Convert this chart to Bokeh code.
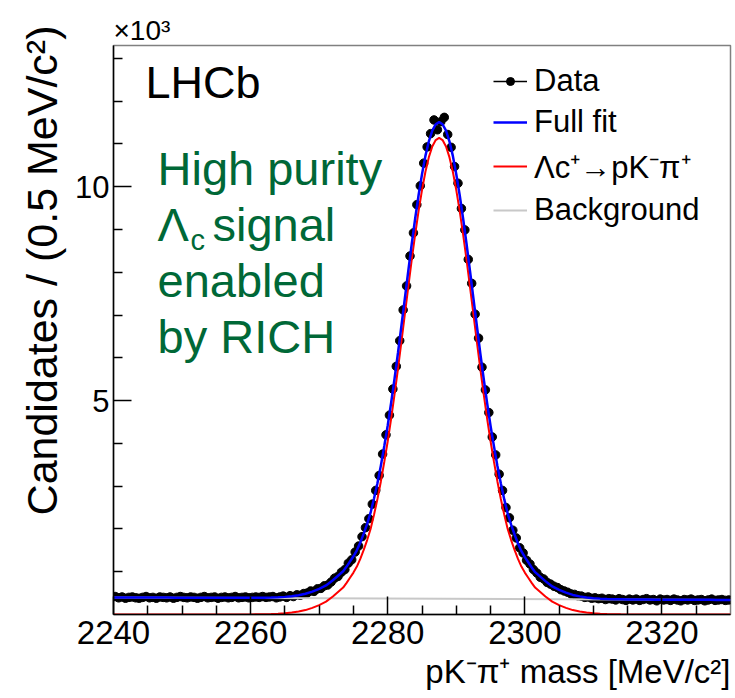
import numpy as np
from bokeh.plotting import figure
from bokeh.models import Range1d, FixedTicker, Label, Legend, LegendItem, ColumnDataSource, Title
from bokeh.embed import file_html
from bokeh.resources import INLINE

# ---------------- data (values in units of 10^3 candidates) ----------------
BIN_WIDTH = 0.5
mass_bins = np.arange(2240.25, 2330.0, BIN_WIDTH)

data_counts = [
    # 2240.25 - 2262.75
    0.42, 0.39, 0.41, 0.38, 0.40, 0.41, 0.39, 0.38, 0.40, 0.42,
    0.39, 0.40, 0.38, 0.41, 0.40, 0.39, 0.41, 0.38, 0.40, 0.42,
    0.40, 0.39, 0.41, 0.40, 0.38, 0.40, 0.42, 0.39, 0.40, 0.41,
    0.38, 0.40, 0.41, 0.39, 0.40, 0.42, 0.39, 0.40, 0.41, 0.39,
    0.40, 0.41, 0.40, 0.42, 0.40, 0.41,
    # 2263.25 - 2271.75
    0.42, 0.39, 0.41, 0.43, 0.40, 0.44, 0.42, 0.46, 0.45, 0.49,
    0.50, 0.55, 0.54, 0.60, 0.61, 0.67, 0.69, 0.76,
    # 2272.25 - 2303.75
    0.85, 0.89, 0.99, 1.05, 1.20, 1.28, 1.46, 1.60, 1.82, 2.03,
    2.24, 2.58, 2.90, 3.25, 3.75, 4.20, 4.66, 5.27, 5.80, 6.40,
    7.12, 7.68, 8.38, 8.92, 9.58, 10.02, 10.55, 10.93, 11.24, 11.56,
    11.33, 11.52, 11.62, 11.22, 10.92, 10.47, 10.08, 9.49, 8.99, 8.30,
    7.74, 7.02, 6.46, 5.78, 5.25, 4.72, 4.15, 3.73, 3.28, 2.90,
    2.50, 2.26, 1.97, 1.79, 1.56, 1.44, 1.27, 1.18, 1.05, 0.97,
    0.87, 0.83, 0.75, 0.71,
    # 2304.25 - 2329.75
    0.66, 0.63, 0.58, 0.55, 0.52, 0.48, 0.47, 0.44, 0.43, 0.40,
    0.41, 0.38, 0.39, 0.37, 0.38, 0.35, 0.37, 0.36, 0.34, 0.37,
    0.35, 0.33, 0.36, 0.34, 0.36, 0.33, 0.35, 0.37, 0.34, 0.35,
    0.32, 0.36, 0.34, 0.35, 0.33, 0.36, 0.34, 0.32, 0.35, 0.34,
    0.36, 0.33, 0.34, 0.35, 0.32, 0.34, 0.36, 0.33, 0.34, 0.35,
    0.33, 0.34,
]

fit_mass = np.concatenate([
    np.arange(2240.0, 2272.0, 1.0),
    np.arange(2272.0, 2303.5, 0.5),
    np.arange(2304.0, 2331.0, 1.0),
])

signal_fit = [
    # 2240 - 2271 (1 MeV)
    0.0, 0.0, 0.0, 0.0, 0.0, 0.0, 0.0, 0.0, 0.0, 0.0,
    0.0, 0.0, 0.0, 0.0, 0.0, 0.0, 0.0, 0.0003, 0.0007, 0.0012,
    0.002, 0.004, 0.0065, 0.011, 0.018, 0.029, 0.045, 0.069, 0.103, 0.155,
    0.22, 0.30,
    # 2272 - 2303 (0.5 MeV)
    0.42, 0.49, 0.56, 0.63, 0.74, 0.86, 0.98, 1.12, 1.30, 1.51,
    1.74, 2.00, 2.33, 2.70, 3.11, 3.57, 4.05, 4.58, 5.15, 5.75,
    6.38, 7.02, 7.66, 8.29, 8.88, 9.43, 9.92, 10.35, 10.69, 10.94,
    11.09, 11.14, 11.09, 10.94, 10.69, 10.35, 9.92, 9.43, 8.88, 8.29,
    7.66, 7.02, 6.38, 5.75, 5.15, 4.58, 4.05, 3.57, 3.11, 2.70,
    2.33, 2.00, 1.74, 1.51, 1.30, 1.12, 0.98, 0.86, 0.74, 0.63,
    0.56, 0.49, 0.42,
    # 2304 - 2330 (1 MeV)
    0.30, 0.22, 0.155, 0.103, 0.069, 0.045, 0.029, 0.018, 0.011, 0.0065,
    0.004, 0.002, 0.0012, 0.0007, 0.0, 0.0, 0.0, 0.0, 0.0, 0.0,
    0.0, 0.0, 0.0, 0.0, 0.0, 0.0, 0.0,
]

full_fit = [
    # 2240 - 2271
    0.400, 0.399, 0.399, 0.398, 0.397, 0.397, 0.396, 0.395, 0.395, 0.394,
    0.393, 0.393, 0.392, 0.391, 0.391, 0.390, 0.389, 0.389, 0.389, 0.389,
    0.389, 0.390, 0.392, 0.396, 0.402, 0.412, 0.428, 0.451, 0.484, 0.536,
    0.600, 0.679,
    # 2272 - 2303
    0.80, 0.87, 0.94, 1.01, 1.12, 1.24, 1.36, 1.50, 1.68, 1.89,
    2.12, 2.38, 2.71, 3.07, 3.48, 3.94, 4.42, 4.95, 5.52, 6.12,
    6.75, 7.39, 8.03, 8.66, 9.25, 9.80, 10.29, 10.72, 11.06, 11.31,
    11.46, 11.51, 11.46, 11.31, 11.06, 10.72, 10.29, 9.80, 9.25, 8.66,
    8.03, 7.39, 6.75, 6.11, 5.51, 4.94, 4.41, 3.93, 3.47, 3.06,
    2.69, 2.36, 2.10, 1.87, 1.66, 1.48, 1.34, 1.22, 1.10, 0.99,
    0.92, 0.85, 0.78,
    # 2304 - 2330
    0.657, 0.577, 0.511, 0.458, 0.424, 0.399, 0.382, 0.371, 0.363, 0.358,
    0.355, 0.352, 0.350, 0.349, 0.348, 0.347, 0.347, 0.346, 0.345, 0.345,
    0.344, 0.343, 0.343, 0.342, 0.341, 0.341, 0.340,
]

bkg_mass = [2240.0, 2330.0]
bkg_fit = [0.400, 0.340]

x_major = [2240, 2260, 2280, 2300, 2320]
x_minor = [2245, 2250, 2255, 2265, 2270, 2275, 2285, 2290, 2295, 2305, 2310, 2315, 2325]
y_major = [5, 10]
y_minor = [1, 2, 3, 4, 6, 7, 8, 9, 11, 12, 13]

# ---------------- layout ----------------
X_LO, X_HI = 2240.0, 2330.0
Y_LO, Y_HI = 0.0, 13.3
# frame in page pixels
FL, FR, FT, FB = 113, 730, 45, 614
W, H = 734, 697

FONT = "Liberation Sans"
GREEN = "#006837"


def dx(px):
    return X_LO + (px - FL) * (X_HI - X_LO) / (FR - FL)


def dy(py):
    return Y_LO + (FB - py) * (Y_HI - Y_LO) / (FB - FT)


p = figure(width=W, height=H,
           x_range=Range1d(X_LO, X_HI), y_range=Range1d(Y_LO, Y_HI),
           output_backend="svg", toolbar_location=None,
           min_border_left=FL, min_border_right=W - FR,
           min_border_top=FT, min_border_bottom=H - FB)

p.background_fill_color = "white"
p.border_fill_color = "white"
p.xgrid.visible = False
p.ygrid.visible = False
p.outline_line_color = "#808080"
p.outline_line_width = 1.5

# multiplier shown above the frame, at its top-left corner
p.title.text = "×10³"
p.title.align = "left"
p.title.text_font = FONT
p.title.text_font_size = "28px"
p.title.text_font_style = "normal"
p.title.text_color = "black"
p.title.standoff = 0

p.xaxis.ticker = FixedTicker(ticks=x_major, minor_ticks=x_minor)
p.yaxis.ticker = FixedTicker(ticks=y_major, minor_ticks=y_minor)
for ax in (p.xaxis, p.yaxis):
    ax.axis_line_color = "black"
    ax.axis_line_width = 1.5
    ax.major_tick_line_color = "black"
    ax.major_tick_line_width = 1.5
    ax.minor_tick_line_color = "black"
    ax.minor_tick_line_width = 1.5
    ax.major_tick_in = 18
    ax.major_tick_out = 0
    ax.minor_tick_in = 9
    ax.minor_tick_out = 0
    ax.major_label_text_font = FONT
    ax.major_label_text_color = "black"
p.xaxis.major_label_text_font_size = "33px"
p.yaxis.major_label_text_font_size = "31px"
p.xaxis.major_label_standoff = 6
p.yaxis.major_label_standoff = 4

# axis titles, aligned to the far ends of the frame as in the reference
x_title = Title(text="pK⁻π⁺ mass [MeV/c²]", align="right",
                text_font=FONT, text_font_size="33px", text_font_style="normal",
                text_color="black", standoff=8, offset=0)
p.add_layout(x_title, "below")
y_title = Title(text="Candidates / (0.5 MeV/c²)", align="right",
                text_font=FONT, text_font_size="43px", text_font_style="normal",
                text_color="black", standoff=14, offset=-20)
p.add_layout(y_title, "left")

# data first, curves on top
data_src = ColumnDataSource(dict(m=mass_bins, n=data_counts))
data_r = p.scatter("m", "n", source=data_src, size=8.5, marker="circle",
                   fill_color="black", line_color="black")

fit_src = ColumnDataSource(dict(m=fit_mass, full=full_fit, sig=signal_fit))
bkg_r = p.line(bkg_mass, bkg_fit, line_color="#c8c8c8", line_width=2)
sig_r = p.line("m", "sig", source=fit_src, line_color="#ff0000", line_width=2)
fit_r = p.line("m", "full", source=fit_src, line_color="#0000ff", line_width=2.5)

# legend-only horizontal bar for the data entry (draws nothing in the plot)
dummy = p.line(x=[np.nan], y=[np.nan], line_color="black", line_width=1.5)

legend = Legend(items=[
    LegendItem(label="Data", renderers=[dummy, data_r]),
    LegendItem(label="Full fit", renderers=[fit_r]),
    LegendItem(label="Λc⁺→pK⁻π⁺", renderers=[sig_r]),
    LegendItem(label="Background", renderers=[bkg_r]),
], location="top_right")
legend.label_text_font = FONT
legend.label_text_font_size = "31px"
legend.label_text_color = "black"
legend.glyph_width = 34
legend.glyph_height = 20
legend.label_standoff = 7
legend.label_width = 178
legend.label_height = 33
legend.spacing = 5
legend.padding = 0
legend.margin = 18
legend.border_line_color = None
legend.background_fill_alpha = 0
p.add_layout(legend)

# texts in the frame: baseline positions compensated for the renderer's offset
SHIFT = 0.38


def add_text(text, px, py, size, color="black", style="normal"):
    p.add_layout(Label(x=dx(px), y=dy(py - SHIFT * size), x_units="data", y_units="data",
                       text=text, text_font=FONT, text_font_size=f"{size}px",
                       text_color=color, text_font_style=style,
                       text_align="left", text_baseline="alphabetic"))


add_text("LHCb", 145, 99, 45)
add_text("High purity", 157, 186, 47, GREEN)
add_text("Λ", 157, 242, 47, GREEN)
add_text("c", 190, 251, 29, GREEN)
add_text("signal", 212, 242, 47, GREEN)
add_text("enabled", 157, 298, 47, GREEN)
add_text("by RICH", 157, 354, 47, GREEN)

open("out.html", "w").write(file_html(p, INLINE))
